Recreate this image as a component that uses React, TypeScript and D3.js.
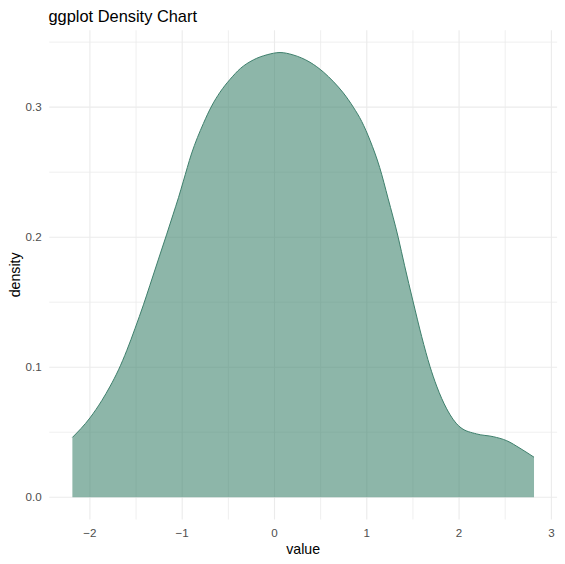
import React from "react";
import * as d3 from "d3";

const values = [-2.19, -2.0, -1.87, -1.78, -1.69, -1.6, -1.51, -1.42, -1.35, -1.26, -1.17, -1.1, -1.04, -0.99, -0.9, -0.77, -0.68, -0.59, -0.48, -0.37, -0.23, -0.08, 0.06, 0.2, 0.385, 0.53, 0.64, 0.745, 0.854, 0.945, 1.035, 1.14, 1.23, 1.34, 1.41, 1.5, 1.595, 1.685, 1.757, 1.866, 2.01, 2.19, 2.37, 2.516, 2.66, 2.812];
const densities = [0.046, 0.061, 0.0745, 0.0855, 0.098, 0.113, 0.13, 0.148, 0.163, 0.1825, 0.2018, 0.2172, 0.2305, 0.2425, 0.264, 0.2875, 0.301, 0.3115, 0.3215, 0.3297, 0.3363, 0.3403, 0.342, 0.3402, 0.3345, 0.327, 0.3195, 0.311, 0.3, 0.289, 0.2745, 0.2535, 0.23, 0.2, 0.178, 0.151, 0.1235, 0.1005, 0.0855, 0.068, 0.054, 0.0487, 0.0466, 0.0435, 0.0377, 0.0308];
const xTicks = [-2, -1, 0, 1, 2, 3];
const xMinor = [-1.5, -0.5, 0.5, 1.5, 2.5];
const yTicks = [0, 0.1, 0.2, 0.3];
const yMinor = [0.05, 0.15, 0.25, 0.35];
const title = "ggplot Density Chart";
const xLabel = "value";
const yLabel = "density";

const W = 565;
const H = 564;
const panel = { left: 49.3, right: 557.1, top: 30.3, bottom: 519.5 };

export default function App() {
  const data = values.map((v, i) => ({ v, d: densities[i] }));
  const xmin = d3.min(values)!;
  const xmax = d3.max(values)!;
  const xr = xmax - xmin;
  const ymax = d3.max(densities)!;
  const x = d3.scaleLinear().domain([xmin - 0.05 * xr, xmax + 0.05 * xr]).range([panel.left, panel.right]);
  const y = d3.scaleLinear().domain([-0.05 * ymax, ymax * 1.05]).range([panel.bottom, panel.top]);

  const area = d3
    .area<{ v: number; d: number }>()
    .x((p) => x(p.v))
    .y0(y(0))
    .y1((p) => y(p.d))
    .curve(d3.curveMonotoneX);
  const line = d3
    .line<{ v: number; d: number }>()
    .x((p) => x(p.v))
    .y((p) => y(p.d))
    .curve(d3.curveMonotoneX);

  const grid = "#EBEBEB";
  const font = "'Liberation Sans', Arial, sans-serif";

  return (
    <svg width={W} height={H} style={{ position: "absolute", left: 0, top: 0, background: "#fff" }}>
      <rect x={0} y={0} width={W} height={H} fill="#fff" />
      {xMinor.map((t) => (
        <line key={"xm" + t} x1={x(t)} x2={x(t)} y1={panel.top} y2={panel.bottom} stroke={grid} strokeWidth={0.8} />
      ))}
      {yMinor.map((t) => (
        <line key={"ym" + t} y1={y(t)} y2={y(t)} x1={panel.left} x2={panel.right} stroke={grid} strokeWidth={0.8} />
      ))}
      {xTicks.map((t) => (
        <line key={"xg" + t} x1={x(t)} x2={x(t)} y1={panel.top} y2={panel.bottom} stroke={grid} strokeWidth={1.1} />
      ))}
      {yTicks.map((t) => (
        <line key={"yg" + t} y1={y(t)} y2={y(t)} x1={panel.left} x2={panel.right} stroke={grid} strokeWidth={1.1} />
      ))}
      <path d={area(data)!} fill="#418570" fillOpacity={0.6} />
      <path d={line(data)!} fill="none" stroke="#3E7F6C" strokeWidth={1} />
      {xTicks.map((t) => (
        <text key={"xt" + t} x={x(t)} y={536.7} textAnchor="middle" fontFamily={font} fontSize={11.6} fill="#4D4D4D">
          {d3.format("d")(t)}
        </text>
      ))}
      {yTicks.map((t) => (
        <text key={"yt" + t} x={41.7} y={y(t)} dy="0.35em" textAnchor="end" fontFamily={font} fontSize={11.6} fill="#4D4D4D">
          {d3.format(".1f")(t)}
        </text>
      ))}
      <text x={(panel.left + panel.right) / 2} y={554} textAnchor="middle" fontFamily={font} fontSize={14.2} fill="#000">
        {xLabel}
      </text>
      <text
        transform={`translate(19.5, ${(panel.top + panel.bottom) / 2}) rotate(-90)`}
        textAnchor="middle"
        fontFamily={font}
        fontSize={14.2}
        fill="#000"
      >
        {yLabel}
      </text>
      <text x={48.5} y={21.7} fontFamily={font} fontSize={16.4} fill="#000">
        {title}
      </text>
    </svg>
  );
}
